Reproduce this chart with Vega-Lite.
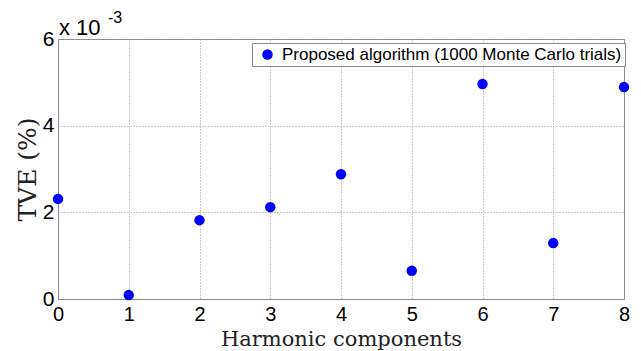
{
  "$schema": "https://vega.github.io/schema/vega-lite/v6.json",
  "width": 566,
  "height": 260,
  "autosize": {"type": "none"},
  "padding": {"left": 58, "top": 39, "right": 17, "bottom": 52},
  "background": "white",
  "config": {
    "view": {"stroke": "#888888", "strokeWidth": 1},
    "axis": {
      "labelFont": "Liberation Sans",
      "labelFontSize": 20,
      "labelColor": "black",
      "titleFont": "DejaVu Serif",
      "titleFontWeight": "normal",
      "titleColor": "#222222",
      "domainColor": "#888888",
      "gridColor": "#999999",
      "gridDash": [1, 2],
      "gridWidth": 1,
      "tickColor": "#888888",
      "tickSize": 0
    }
  },
  "layer": [
    {
      "data": {
        "values": [
          {"harmonic": 0, "tve": 0.00231, "series": "Proposed algorithm (1000 Monte Carlo trials)"},
          {"harmonic": 1, "tve": 0.00009, "series": "Proposed algorithm (1000 Monte Carlo trials)"},
          {"harmonic": 2, "tve": 0.00182, "series": "Proposed algorithm (1000 Monte Carlo trials)"},
          {"harmonic": 3, "tve": 0.00212, "series": "Proposed algorithm (1000 Monte Carlo trials)"},
          {"harmonic": 4, "tve": 0.00288, "series": "Proposed algorithm (1000 Monte Carlo trials)"},
          {"harmonic": 5, "tve": 0.00065, "series": "Proposed algorithm (1000 Monte Carlo trials)"},
          {"harmonic": 6, "tve": 0.00496, "series": "Proposed algorithm (1000 Monte Carlo trials)"},
          {"harmonic": 7, "tve": 0.00129, "series": "Proposed algorithm (1000 Monte Carlo trials)"},
          {"harmonic": 8, "tve": 0.00489, "series": "Proposed algorithm (1000 Monte Carlo trials)"}
        ]
      },
      "mark": {"type": "point", "filled": true, "size": 110, "opacity": 1, "clip": false},
      "encoding": {
        "x": {
          "field": "harmonic", "type": "quantitative",
          "scale": {"domain": [0, 8], "nice": false, "zero": false},
          "axis": {"values": [0, 1, 2, 3, 4, 5, 6, 7, 8], "format": "d", "title": "Harmonic components", "titleFontSize": 21, "titleBaseline": "alphabetic", "titleY": 46, "labelPadding": 5, "labelFlush": false}
        },
        "y": {
          "field": "tve", "type": "quantitative",
          "scale": {"domain": [0, 0.006], "nice": false},
          "axis": {"values": [0, 0.002, 0.004, 0.006], "labelExpr": "format(datum.value * 1000, 'd')", "labelFontSize": 21, "title": "TVE (%)", "titleFontSize": 25, "titleBaseline": "middle", "titleX": -31, "labelPadding": 4, "labelFlush": false}
        },
        "color": {
          "field": "series", "type": "nominal",
          "scale": {"range": ["#0000FF"]},
          "legend": {
            "title": null,
            "orient": "none",
            "legendX": 194,
            "legendY": 4,
            "fillColor": "white",
            "strokeColor": "#888888",
            "padding": 3,
            "labelFont": "Liberation Sans",
            "labelFontSize": 17,
            "labelColor": "black",
            "symbolSize": 110,
            "symbolType": "circle",
            "symbolOffset": 4,
            "labelOffset": 6,
            "labelLimit": 500
          }
        }
      }
    },
    {
      "data": {"values": [{"t": "x 10"}]},
      "mark": {"type": "text", "font": "Liberation Sans", "fontSize": 22, "align": "left", "baseline": "alphabetic", "dy": -4, "dx": 1, "color": "black", "clip": false},
      "encoding": {
        "x": {"datum": 0},
        "y": {"datum": 0.006},
        "text": {"field": "t"}
      }
    },
    {
      "data": {"values": [{"t": "-3"}]},
      "mark": {"type": "text", "font": "Liberation Sans", "fontSize": 16, "align": "left", "baseline": "alphabetic", "dy": -16, "dx": 50, "color": "black", "clip": false},
      "encoding": {
        "x": {"datum": 0},
        "y": {"datum": 0.006},
        "text": {"field": "t"}
      }
    }
  ]
}
